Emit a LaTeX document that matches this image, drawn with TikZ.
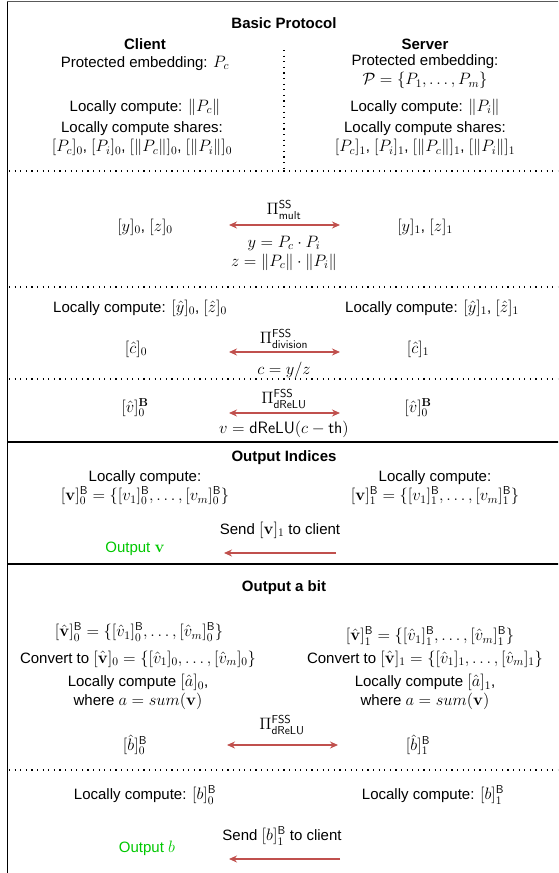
\RequirePackage{fix-cm}
\documentclass[tikz,border=0pt]{standalone}
\usepackage[no-math]{fontspec}
\setmainfont{Liberation Sans}
\usepackage{amsmath,amssymb}
\usetikzlibrary{arrows.meta}
\DeclareMathSizes{15}{16.5}{11.5}{9}

\definecolor{msgred}{RGB}{192,80,77}
\definecolor{outgreen}{RGB}{0,200,0}

\begin{document}
\begin{tikzpicture}[x=1pt,y=-1pt,
    lbl/.style={font=\fontsize{15}{19}\selectfont,align=center,inner sep=0pt},
    hdr/.style={font=\fontsize{15}{19}\selectfont\bfseries,inner sep=0pt},
    outlbl/.style={lbl,text=outgreen},
    sep/.style={line width=1.2pt,dash pattern=on 1.2pt off 4.4pt},
    frame/.style={line width=1.1pt},
    msg/.style={msgred,line width=1.2pt,-{Stealth[length=8pt,width=7pt]}},
    bimsg/.style={msg,{Stealth[length=8pt,width=7pt]}-{Stealth[length=8pt,width=7pt]}}]
    \useasboundingbox (0,0) rectangle (558,873);
    \clip (0,0) rectangle (558,873);

    % 外框
    \draw[frame] (7.5,880) -- (7.5,1);
    \draw[frame,gray!70!black] (7,1.2) -- (560,1.2);
    \draw[frame] (7.5,442) -- (560,442);
    \draw[frame] (7.5,564) -- (560,564);

    % 基本协议
    \node[hdr] (basic) at (284,23) {Basic Protocol};
    \node[hdr] (client) at (145,44) {Client};
    \node[hdr] (server) at (425,44) {Server};
    \node[lbl] (cemb) at (145,63) {Protected embedding: $P_c$};
    \node[lbl] (semb) at (425,72) {Protected embedding:\\$\mathcal{P}=\{P_1,\dots,P_m\}$};
    \node[lbl] (cnorm) at (145,107) {Locally compute: $\|P_c\|$};
    \node[lbl] (snorm) at (425,107) {Locally compute: $\|P_i\|$};
    \node[lbl] (cshare) at (142,139) {Locally compute shares:\\$[P_c]_0$, $[P_i]_0$, $[\|P_c\|]_0$, $[\|P_i\|]_0$};
    \node[lbl] (sshare) at (425,139) {Locally compute shares:\\$[P_c]_1$, $[P_i]_1$, $[\|P_c\|]_1$, $[\|P_i\|]_1$};
    \draw[sep] (284,50) -- (284,170);
    \draw[sep] (9,171) -- (560,171);

    % 乘法
    \node[lbl] (pimult) at (284,210) {$\Pi^{\mathsf{SS}}_{\mathsf{mult}}$};
    \node[lbl] (yz0) at (145,227) {$[y]_0$, $[z]_0$};
    \node[lbl] (yz1) at (425,227) {$[y]_1$, $[z]_1$};
    \coordinate (multL) at (229,225);
    \coordinate (multR) at (340,225);
    \draw[bimsg] (multL) -- (multR);
    \node[lbl] (eqy) at (284,243) {$y=P_c\cdot P_i$};
    \node[lbl] (eqz) at (284,262) {$z=\|P_c\|\cdot\|P_i\|$};
    \draw[sep] (9,287) -- (560,287);

    % 除法
    \node[lbl] (hat0) at (140,308) {Locally compute: $[\hat{y}]_0$, $[\hat{z}]_0$};
    \node[lbl] (hat1) at (432,308) {Locally compute: $[\hat{y}]_1$, $[\hat{z}]_1$};
    \node[lbl] (pidiv) at (284,339) {$\Pi^{\mathsf{FSS}}_{\mathsf{division}}$};
    \node[lbl] (c0) at (136,349) {$[\hat{c}]_0$};
    \node[lbl] (c1) at (418,349) {$[\hat{c}]_1$};
    \coordinate (divL) at (229,352);
    \coordinate (divR) at (340,352);
    \draw[bimsg] (divL) -- (divR);
    \node[lbl] (eqc) at (284,370) {$c=y/z$};
    \draw[sep] (9,379) -- (560,379);

    % dReLU
    \node[lbl] (pirelu) at (284,399) {$\Pi^{\mathsf{FSS}}_{\mathsf{dReLU}}$};
    \node[lbl] (v0) at (135,408) {$[\hat{v}]^{\mathbf{B}}_0$};
    \node[lbl] (v1) at (418,408) {$[\hat{v}]^{\mathbf{B}}_0$};
    \coordinate (reluL) at (229,413);
    \coordinate (reluR) at (340,413);
    \draw[bimsg] (reluL) -- (reluR);
    \node[lbl] (eqv) at (284,429) {$v=\mathsf{dReLU}(c-\mathsf{th})$};

    % 输出索引
    \node[hdr] (indices) at (284,458) {Output Indices};
    \node[lbl] (idx0) at (145,488) {Locally compute:\\$[\mathbf{v}]^{\mathsf{B}}_0=\{[v_1]^{\mathsf{B}}_0,\dots,[v_m]^{\mathsf{B}}_0\}$};
    \node[lbl] (idx1) at (435,488) {Locally compute:\\$[\mathbf{v}]^{\mathsf{B}}_1=\{[v_1]^{\mathsf{B}}_1,\dots,[v_m]^{\mathsf{B}}_1\}$};
    \node[lbl] (sendv) at (280,530) {Send $[\mathbf{v}]_1$ to client};
    \node[outlbl] (outv) at (135,549) {Output $\mathbf{v}$};
    \coordinate (idxS) at (336,553);
    \coordinate (idxC) at (224,553);
    \draw[msg] (idxS) -- (idxC);

    % 输出一位
    \node[hdr] (abit) at (284,588) {Output a bit};
    \node[lbl] (vb0) at (139,632) {$[\hat{\mathbf{v}}]^{\mathsf{B}}_0=\{[\hat{v}_1]^{\mathsf{B}}_0,\dots,[\hat{v}_m]^{\mathsf{B}}_0\}$};
    \node[lbl] (vb1) at (430,636) {$[\hat{\mathbf{v}}]^{\mathsf{B}}_1=\{[\hat{v}_1]^{\mathsf{B}}_1,\dots,[\hat{v}_m]^{\mathsf{B}}_1\}$};
    \node[lbl] (conv0) at (138,659) {Convert to $[\hat{\mathbf{v}}]_0=\{[\hat{v}_1]_0,\dots,[\hat{v}_m]_0\}$};
    \node[lbl] (conv1) at (425,659) {Convert to $[\hat{\mathbf{v}}]_1=\{[\hat{v}_1]_1,\dots,[\hat{v}_m]_1\}$};
    \node[lbl] (sum0) at (138,692) {Locally compute $[\hat{a}]_0$,\\where $a=sum(\mathbf{v})$};
    \node[lbl] (sum1) at (425,692) {Locally compute $[\hat{a}]_1$,\\where $a=sum(\mathbf{v})$};
    \node[lbl] (pibit) at (282,725) {$\Pi^{\mathsf{FSS}}_{\mathsf{dReLU}}$};
    \node[lbl] (b0) at (135,745) {$[\hat{b}]^{\mathsf{B}}_0$};
    \node[lbl] (b1) at (418,745) {$[\hat{b}]^{\mathsf{B}}_1$};
    \coordinate (bitL) at (227,745);
    \coordinate (bitR) at (338,745);
    \draw[bimsg] (bitL) -- (bitR);
    \draw[sep] (9,770) -- (560,770);

    % 本地计算并发送
    \node[lbl] (lb0) at (145,795) {Locally compute: $[b]^{\mathsf{B}}_0$};
    \node[lbl] (lb1) at (433,795) {Locally compute: $[b]^{\mathsf{B}}_1$};
    \node[lbl] (sendb) at (282,836) {Send $[b]^{\mathsf{B}}_1$ to client};
    \node[outlbl] (outb) at (147,848) {Output $b$};
    \coordinate (bitS) at (340,859);
    \coordinate (bitC) at (229,859);
    \draw[msg] (bitS) -- (bitC);
\end{tikzpicture}
\end{document}
